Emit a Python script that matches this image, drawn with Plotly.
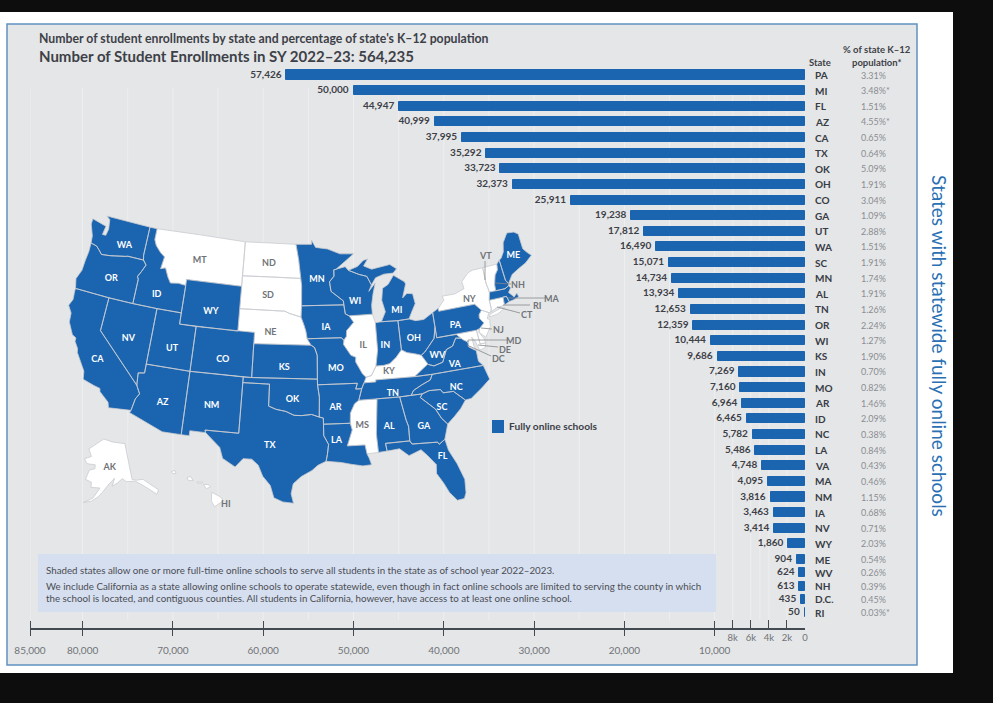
import plotly.graph_objects as go

W, H = 993, 703
FONT = "Lato"
BLUE = "#1b65b0"
DARK = "#3d4147"
GRAY = "#707377"

# bar chart data
state_codes = ["PA", "MI", "FL", "AZ", "CA", "TX", "OK", "OH", "CO", "GA", "UT", "WA", "SC", "MN", "AL", "TN", "OR", "WI",
               "KS", "IN", "MO", "AR", "ID", "NC", "LA", "VA", "MA", "NM", "IA", "NV", "WY", "ME", "WV", "NH", "D.C.", "RI"]
enrollments = [57426, 50000, 44947, 40999, 37995, 35292, 33723, 32373, 25911, 19238, 17812, 16490, 15071, 14734, 13934,
               12653, 12359, 10444, 9686, 7269, 7160, 6964, 6465, 5782, 5486, 4748, 4095, 3816, 3463, 3414, 1860, 904,
               624, 613, 435, 50]
pct_k12 = ["3.31%", "3.48%*", "1.51%", "4.55%*", "0.65%", "0.64%", "5.09%", "1.91%", "3.04%", "1.09%", "2.88%", "1.51%",
           "1.91%", "1.74%", "1.91%", "1.26%", "2.24%", "1.27%", "1.90%", "0.70%", "0.82%", "1.46%", "2.09%", "0.38%",
           "0.84%", "0.43%", "0.46%", "1.15%", "0.68%", "0.71%", "2.03%", "0.54%", "0.26%", "0.39%", "0.45%", "0.03%*"]

major_ticks = [80000, 70000, 60000, 50000, 40000, 30000, 20000, 10000]
minor_ticks = [8000, 6000, 4000, 2000, 0]
minor_labels = ["8k", "6k", "4k", "2k", "0"]

# simplified state outlines, lon/lat
state_shapes = {
    "WA": [[(-124.7, 48.4), (-123.1, 48.15), (-122.75, 48.1), (-122.9, 47.3), (-122.45, 47.3), (-122.3, 47.9), (-122.5, 48.75), (-123.0, 49.0), (-117.03, 49.0), (-117.04, 46.42), (-116.92, 45.99), (-118.98, 46.0), (-119.3, 45.93), (-121.2, 45.65), (-122.3, 45.55), (-122.8, 45.9), (-123.2, 46.15), (-124.0, 46.27), (-124.1, 46.9), (-124.7, 47.9)]],
    "OR": [[(-124.0, 46.27), (-123.2, 46.15), (-122.8, 45.9), (-122.3, 45.55), (-121.2, 45.65), (-119.3, 45.93), (-118.98, 46.0), (-116.92, 45.99), (-116.46, 45.6), (-116.85, 44.95), (-117.2, 44.45), (-117.03, 44.2), (-117.03, 42.0), (-120.0, 42.0), (-124.2, 42.0), (-124.5, 42.85), (-124.1, 43.7), (-124.05, 44.7), (-123.95, 45.5)]],
    "CA": [[(-124.2, 42.0), (-120.0, 42.0), (-120.0, 39.0), (-114.63, 35.0), (-114.15, 34.3), (-114.5, 33.8), (-114.72, 32.72), (-117.12, 32.53), (-117.3, 33.0), (-118.4, 33.75), (-118.5, 34.03), (-119.2, 34.15), (-120.5, 34.45), (-120.65, 35.15), (-121.9, 36.6), (-122.0, 36.95), (-122.5, 37.5), (-122.5, 37.8), (-123.0, 38.0), (-123.75, 39.0), (-123.85, 39.8), (-124.4, 40.4), (-124.1, 41.0), (-124.2, 41.75)]],
    "NV": [[(-120.0, 42.0), (-117.03, 42.0), (-114.04, 42.0), (-114.05, 36.2), (-114.75, 36.1), (-114.63, 35.0), (-120.0, 39.0)]],
    "ID": [[(-117.03, 49.0), (-116.05, 49.0), (-116.05, 48.0), (-115.7, 47.5), (-114.95, 46.95), (-114.35, 46.65), (-114.55, 45.55), (-113.95, 45.7), (-113.45, 44.95), (-113.0, 44.45), (-112.0, 44.55), (-111.05, 44.47), (-111.05, 42.0), (-114.04, 42.0), (-117.03, 42.0), (-117.03, 44.2), (-117.2, 44.45), (-116.85, 44.95), (-116.46, 45.6), (-116.92, 45.99), (-117.04, 46.42)]],
    "MT": [[(-116.05, 49.0), (-104.05, 49.0), (-104.05, 45.0), (-111.05, 45.0), (-111.05, 44.47), (-112.0, 44.55), (-113.0, 44.45), (-113.45, 44.95), (-113.95, 45.7), (-114.55, 45.55), (-114.35, 46.65), (-114.95, 46.95), (-115.7, 47.5), (-116.05, 48.0)]],
    "WY": [[(-111.05, 45.0), (-104.05, 45.0), (-104.05, 41.0), (-111.05, 41.0)]],
    "UT": [[(-114.04, 42.0), (-111.05, 42.0), (-111.05, 41.0), (-109.05, 41.0), (-109.05, 37.0), (-114.05, 37.0)]],
    "CO": [[(-109.05, 41.0), (-102.05, 41.0), (-102.05, 37.0), (-109.05, 37.0)]],
    "AZ": [[(-114.05, 37.0), (-109.05, 37.0), (-109.05, 31.33), (-111.07, 31.33), (-114.81, 32.5), (-114.72, 32.72), (-114.5, 33.8), (-114.15, 34.3), (-114.63, 35.0), (-114.75, 36.1), (-114.05, 36.2)]],
    "NM": [[(-109.05, 37.0), (-103.0, 37.0), (-103.04, 32.0), (-106.62, 32.0), (-106.53, 31.78), (-108.2, 31.78), (-108.2, 31.33), (-109.05, 31.33)]],
    "TX": [[(-106.62, 32.0), (-103.04, 32.0), (-103.0, 36.5), (-100.0, 36.5), (-100.0, 34.56), (-99.2, 34.3), (-98.1, 34.13), (-97.2, 33.8), (-96.4, 33.78), (-95.3, 33.88), (-94.48, 33.64), (-94.04, 33.55), (-94.04, 33.0), (-94.04, 31.99), (-93.55, 31.2), (-93.7, 30.3), (-93.85, 29.7), (-94.7, 29.35), (-95.3, 28.9), (-96.4, 28.35), (-97.2, 27.7), (-97.4, 26.8), (-97.15, 25.95), (-98.2, 26.05), (-99.1, 26.4), (-99.5, 27.5), (-100.3, 28.3), (-100.8, 29.25), (-101.5, 29.77), (-102.4, 29.77), (-103.15, 28.98), (-104.5, 29.65), (-104.9, 30.6), (-106.53, 31.78)]],
    "OK": [[(-103.0, 37.0), (-102.05, 37.0), (-94.62, 37.0), (-94.62, 36.5), (-94.43, 35.4), (-94.48, 33.64), (-95.3, 33.88), (-96.4, 33.78), (-97.2, 33.8), (-98.1, 34.13), (-99.2, 34.3), (-100.0, 34.56), (-100.0, 36.5), (-103.0, 36.5)]],
    "KS": [[(-102.05, 40.0), (-95.3, 40.0), (-94.9, 39.8), (-94.6, 39.1), (-94.62, 37.0), (-102.05, 37.0)]],
    "NE": [[(-104.05, 43.0), (-98.5, 43.0), (-97.9, 42.8), (-96.5, 42.5), (-96.1, 41.7), (-95.9, 41.2), (-95.77, 40.58), (-95.3, 40.0), (-102.05, 40.0), (-102.05, 41.0), (-104.05, 41.0)]],
    "SD": [[(-104.05, 45.94), (-96.56, 45.94), (-96.45, 45.3), (-96.45, 43.5), (-96.5, 42.5), (-97.9, 42.8), (-98.5, 43.0), (-104.05, 43.0)]],
    "ND": [[(-104.05, 49.0), (-97.23, 49.0), (-96.85, 47.6), (-96.56, 45.94), (-104.05, 45.94)]],
    "MN": [[(-97.23, 49.0), (-95.15, 49.0), (-95.15, 49.38), (-94.6, 48.72), (-93.0, 48.55), (-91.4, 48.07), (-89.6, 48.0), (-92.0, 46.7), (-92.3, 46.66), (-92.3, 46.1), (-92.9, 45.6), (-92.75, 44.75), (-91.25, 43.85), (-91.22, 43.5), (-96.45, 43.5), (-96.45, 45.3), (-96.56, 45.94), (-96.85, 47.6)]],
    "IA": [[(-96.45, 43.5), (-91.22, 43.5), (-91.1, 42.7), (-90.65, 42.5), (-90.15, 41.9), (-91.05, 41.2), (-91.1, 40.7), (-91.42, 40.38), (-91.73, 40.6), (-95.77, 40.58), (-95.9, 41.2), (-96.1, 41.7), (-96.5, 42.5)]],
    "MO": [[(-95.77, 40.58), (-91.73, 40.6), (-91.42, 40.38), (-91.5, 40.0), (-90.7, 39.0), (-90.15, 38.8), (-90.2, 38.4), (-89.5, 37.3), (-89.13, 36.98), (-89.4, 36.5), (-89.7, 36.0), (-90.37, 36.0), (-90.15, 36.5), (-94.62, 36.5), (-94.62, 37.0), (-94.6, 39.1), (-94.9, 39.8), (-95.3, 40.0)]],
    "AR": [[(-94.62, 36.5), (-90.15, 36.5), (-90.37, 36.0), (-89.7, 36.0), (-90.1, 35.0), (-90.6, 34.7), (-91.1, 33.9), (-91.17, 33.0), (-94.04, 33.0), (-94.04, 33.55), (-94.48, 33.64), (-94.43, 35.4)]],
    "LA": [[(-94.04, 33.0), (-91.17, 33.0), (-91.0, 32.4), (-91.6, 31.0), (-89.75, 31.0), (-89.6, 30.2), (-89.4, 29.8), (-89.2, 29.2), (-90.1, 29.15), (-91.3, 29.35), (-92.3, 29.55), (-93.85, 29.7), (-93.7, 30.3), (-93.55, 31.2), (-94.04, 31.99)]],
    "MS": [[(-90.1, 35.0), (-88.2, 35.0), (-88.1, 34.9), (-88.47, 31.9), (-88.4, 30.25), (-89.6, 30.2), (-89.75, 31.0), (-91.6, 31.0), (-91.0, 32.4), (-91.17, 33.0), (-91.1, 33.9), (-90.6, 34.7)]],
    "AL": [[(-88.2, 35.0), (-85.6, 34.98), (-85.18, 32.87), (-85.0, 32.3), (-85.05, 31.0), (-87.6, 31.0), (-87.5, 30.3), (-88.4, 30.25), (-88.47, 31.9), (-88.1, 34.9)]],
    "GA": [[(-85.6, 34.98), (-83.1, 35.0), (-83.35, 34.7), (-81.9, 33.5), (-81.4, 32.6), (-80.85, 32.03), (-81.4, 30.72), (-82.05, 30.36), (-82.2, 30.57), (-84.86, 30.7), (-85.05, 31.0), (-85.0, 32.3), (-85.18, 32.87)]],
    "FL": [[(-87.6, 31.0), (-85.05, 31.0), (-84.86, 30.7), (-82.2, 30.57), (-82.05, 30.36), (-81.4, 30.72), (-81.2, 29.7), (-80.55, 28.4), (-80.05, 26.9), (-80.15, 25.7), (-80.4, 25.2), (-81.1, 25.15), (-81.75, 25.95), (-82.2, 26.9), (-82.75, 27.8), (-82.65, 28.6), (-83.4, 29.5), (-84.0, 30.1), (-85.3, 29.7), (-86.2, 30.4), (-87.5, 30.3)]],
    "SC": [[(-83.1, 35.0), (-82.3, 35.2), (-81.05, 35.15), (-80.8, 34.82), (-79.67, 34.8), (-78.55, 33.85), (-79.2, 33.2), (-80.0, 32.6), (-80.85, 32.03), (-81.4, 32.6), (-81.9, 33.5), (-83.35, 34.7)]],
    "NC": [[(-81.68, 36.59), (-75.87, 36.55), (-75.5, 35.25), (-76.5, 34.65), (-77.9, 33.9), (-78.55, 33.85), (-79.67, 34.8), (-80.8, 34.82), (-81.05, 35.15), (-82.3, 35.2), (-83.1, 35.0), (-84.32, 35.0), (-84.0, 35.4), (-83.0, 35.8), (-82.0, 36.12)]],
    "TN": [[(-90.1, 35.0), (-88.2, 35.0), (-85.6, 34.98), (-84.32, 35.0), (-84.0, 35.4), (-83.0, 35.8), (-82.0, 36.12), (-81.68, 36.59), (-83.68, 36.6), (-88.07, 36.68), (-88.07, 36.5), (-89.4, 36.5), (-89.7, 36.0)]],
    "KY": [[(-89.4, 36.5), (-89.13, 36.98), (-88.5, 37.1), (-87.9, 37.9), (-87.0, 37.9), (-86.3, 38.0), (-85.5, 38.5), (-84.8, 39.1), (-84.2, 38.8), (-83.3, 38.6), (-82.6, 38.4), (-82.0, 37.55), (-83.68, 36.6), (-88.07, 36.68), (-88.07, 36.5)]],
    "VA": [[(-83.68, 36.6), (-81.68, 36.59), (-75.87, 36.55), (-76.3, 37.0), (-76.3, 37.95), (-77.05, 38.4), (-77.05, 38.85), (-77.5, 39.1), (-77.75, 39.3), (-78.35, 39.4), (-78.87, 38.76), (-79.65, 38.55), (-80.3, 37.5), (-81.35, 37.3), (-81.95, 37.5), (-82.0, 37.55)]],
    "WV": [[(-82.6, 38.4), (-82.0, 37.55), (-81.95, 37.5), (-81.35, 37.3), (-80.3, 37.5), (-79.65, 38.55), (-78.87, 38.76), (-78.35, 39.4), (-77.75, 39.3), (-78.2, 39.7), (-79.48, 39.72), (-80.52, 39.72), (-80.52, 40.64), (-80.85, 39.7), (-81.7, 39.0), (-82.2, 38.6)]],
    "MD": [[(-79.48, 39.72), (-75.79, 39.72), (-75.7, 38.46), (-75.05, 38.45), (-75.25, 38.03), (-75.9, 37.95), (-76.2, 38.8), (-76.5, 39.2), (-76.45, 38.4), (-76.3, 37.95), (-77.05, 38.4), (-77.05, 38.85), (-77.5, 39.1), (-77.75, 39.3), (-78.2, 39.7)]],
    "DE": [[(-75.79, 39.72), (-75.4, 39.8), (-75.55, 39.5), (-75.1, 38.8), (-75.05, 38.45), (-75.7, 38.46)]],
    "DC": [[(-77.12, 38.93), (-77.04, 39.0), (-76.91, 38.89), (-77.04, 38.79)]],
    "PA": [[(-80.52, 41.98), (-79.76, 42.27), (-79.76, 42.0), (-75.35, 42.0), (-74.7, 41.36), (-75.1, 41.0), (-75.15, 40.7), (-74.75, 40.2), (-75.4, 39.8), (-75.79, 39.72), (-80.52, 39.72)]],
    "NJ": [[(-74.7, 41.36), (-73.9, 41.0), (-74.25, 40.5), (-73.98, 40.4), (-74.1, 39.75), (-74.9, 38.93), (-75.55, 39.5), (-75.4, 39.8), (-74.75, 40.2), (-75.15, 40.7), (-75.1, 41.0)]],
    "NY": [[(-79.76, 42.27), (-78.9, 42.9), (-79.05, 43.27), (-77.5, 43.25), (-76.2, 43.55), (-76.3, 44.2), (-75.3, 44.85), (-74.7, 45.0), (-73.35, 45.0), (-73.4, 43.6), (-73.25, 42.75), (-73.5, 42.05), (-73.5, 41.3), (-73.65, 41.0), (-73.9, 41.0), (-74.7, 41.36), (-75.35, 42.0), (-79.76, 42.0)],
           [(-74.0, 40.6), (-73.75, 40.85), (-72.3, 41.15), (-71.9, 41.05), (-72.9, 40.7)]],
    "CT": [[(-73.5, 42.05), (-71.8, 42.02), (-71.85, 41.32), (-72.9, 41.25), (-73.65, 41.0), (-73.5, 41.3)]],
    "RI": [[(-71.8, 42.02), (-71.38, 42.02), (-71.2, 41.5), (-71.85, 41.32)]],
    "MA": [[(-73.25, 42.75), (-72.46, 42.73), (-71.3, 42.7), (-70.8, 42.87), (-70.6, 42.65), (-71.0, 42.3), (-70.65, 41.95), (-70.5, 41.78), (-70.05, 42.05), (-69.95, 41.7), (-70.65, 41.55), (-71.2, 41.5), (-71.38, 42.02), (-71.8, 42.02), (-73.5, 42.05)]],
    "VT": [[(-73.35, 45.0), (-71.5, 45.01), (-71.6, 44.5), (-72.05, 44.1), (-72.4, 43.3), (-72.46, 42.73), (-73.25, 42.75), (-73.4, 43.6)]],
    "NH": [[(-71.5, 45.01), (-71.08, 45.3), (-70.98, 43.4), (-70.7, 43.07), (-70.8, 42.87), (-71.3, 42.7), (-72.46, 42.73), (-72.4, 43.3), (-72.05, 44.1), (-71.6, 44.5)]],
    "ME": [[(-71.08, 45.3), (-70.8, 45.4), (-70.3, 45.9), (-70.0, 46.7), (-69.2, 47.45), (-68.3, 47.35), (-67.8, 47.07), (-67.8, 45.7), (-67.45, 45.3), (-67.0, 44.9), (-68.0, 44.4), (-69.0, 44.1), (-70.0, 43.75), (-70.7, 43.07), (-70.98, 43.4)]],
    "OH": [[(-84.8, 41.7), (-83.45, 41.73), (-82.7, 41.5), (-81.7, 41.5), (-80.52, 41.98), (-80.52, 40.64), (-80.85, 39.7), (-81.7, 39.0), (-82.2, 38.6), (-82.6, 38.4), (-83.3, 38.6), (-84.2, 38.8), (-84.8, 39.1)]],
    "IN": [[(-87.53, 41.72), (-86.8, 41.76), (-84.8, 41.7), (-84.8, 39.1), (-85.5, 38.5), (-86.3, 38.0), (-87.0, 37.9), (-87.9, 37.9), (-87.55, 39.3)]],
    "IL": [[(-90.65, 42.5), (-87.8, 42.5), (-87.53, 41.72), (-87.55, 39.3), (-87.9, 37.9), (-88.5, 37.1), (-89.13, 36.98), (-89.5, 37.3), (-90.2, 38.4), (-90.15, 38.8), (-90.7, 39.0), (-91.5, 40.0), (-91.42, 40.38), (-91.1, 40.7), (-91.05, 41.2), (-90.15, 41.9)]],
    "WI": [[(-92.0, 46.7), (-90.8, 46.9), (-90.4, 46.55), (-89.1, 46.13), (-88.1, 45.9), (-87.6, 45.1), (-88.0, 44.55), (-87.1, 45.25), (-87.5, 44.3), (-87.8, 43.3), (-87.8, 42.5), (-90.65, 42.5), (-91.1, 42.7), (-91.22, 43.5), (-91.25, 43.85), (-92.75, 44.75), (-92.9, 45.6), (-92.3, 46.1), (-92.3, 46.66)]],
    "MI": [[(-86.8, 41.76), (-84.8, 41.7), (-83.45, 41.73), (-83.1, 42.2), (-82.45, 43.0), (-82.6, 43.9), (-83.3, 44.0), (-83.9, 43.65), (-83.3, 44.85), (-83.4, 45.05), (-84.7, 45.75), (-85.5, 45.0), (-86.25, 44.7), (-86.5, 43.65), (-86.2, 42.6)],
           [(-90.4, 46.55), (-89.2, 46.85), (-88.4, 47.35), (-87.8, 47.45), (-88.4, 46.85), (-87.4, 46.5), (-85.0, 46.75), (-84.2, 46.3), (-84.7, 45.95), (-85.9, 45.95), (-87.0, 45.7), (-87.6, 45.1), (-88.1, 45.9), (-89.1, 46.13)]],
    "AK": [[(-141.0, 69.65), (-141.0, 60.3), (-139.0, 59.9), (-135.5, 59.7), (-133.5, 58.4), (-130.0, 55.9), (-131.5, 55.0), (-133.5, 56.5), (-136.0, 58.0), (-139.5, 59.7), (-144.0, 60.0), (-146.0, 60.9), (-148.5, 60.0), (-151.5, 59.2), (-150.0, 61.2), (-153.5, 59.5), (-156.0, 57.8), (-158.0, 56.5), (-161.0, 55.2), (-164.5, 54.6), (-160.5, 56.0), (-157.5, 58.7), (-162.0, 58.7), (-162.0, 60.0), (-165.3, 60.5), (-164.0, 63.0), (-161.0, 63.5), (-161.0, 64.5), (-166.0, 64.5), (-168.0, 65.6), (-164.0, 66.5), (-166.5, 68.3), (-163.0, 69.5), (-156.5, 71.3), (-150.0, 70.5)]],
    "HI": [[(-155.9, 20.25), (-155.1, 19.85), (-154.8, 19.5), (-155.65, 18.95), (-155.95, 19.5)],
           [(-156.7, 20.95), (-156.25, 20.95), (-156.0, 20.75), (-156.4, 20.58)],
           [(-158.25, 21.55), (-157.95, 21.7), (-157.65, 21.3), (-158.1, 21.3)],
           [(-159.75, 22.1), (-159.4, 22.2), (-159.3, 21.95), (-159.6, 21.9)],
           [(-157.25, 21.2), (-156.75, 21.15), (-156.9, 21.05), (-157.3, 21.1)]],
}

# where the state names sit on the map
label_codes = ["WA", "OR", "CA", "NV", "ID", "MT", "WY", "UT", "CO", "AZ", "NM", "TX", "OK", "KS", "NE", "SD", "ND", "MN", "IA",
               "MO", "AR", "LA", "MS", "AL", "GA", "FL", "SC", "NC", "TN", "KY", "VA", "WV", "PA", "NY", "ME", "OH", "IN", "IL",
               "WI", "MI", "AK"]
label_lon = [-119.75, -120.3, -119.5, -116.65, -114.4, -109.75, -107.5, -111.45, -105.5, -111.5, -106.2, -99.7, -97.4, -98.4, -100.15,
             -100.65, -100.75, -94.5, -93.5, -92.5, -92.7, -92.7, -89.9, -87.05, -83.4, -81.9, -81.2, -79.3, -86.3, -86.5, -79.0,
             -80.8, -78.1, -75.85, -69.2, -83.2, -86.6, -89.2, -89.8, -84.8, -152.5]
label_lat = [46.8, 43.7, 36.4, 38.9, 43.2, 46.8, 42.45, 38.7, 38.4, 33.85, 34.2, 31.05, 35.2, 38.0, 41.05, 44.3, 47.2, 45.8, 41.5,
             37.9, 34.4, 31.5, 32.75, 32.45, 32.05, 29.2, 33.5, 35.1, 35.35, 37.3, 37.1, 38.1, 40.5, 42.5, 45.3, 39.9, 39.65, 39.75,
             43.75, 42.6, 64.0]

online_codes = [c.replace(".", "") for c in state_codes]


def px(x):
    return x / W


def py(y):
    return 1 - y / H


def clockwise(ring):
    area = sum(a[0] * b[1] - b[0] * a[1] for a, b in zip(ring, ring[1:] + ring[:1]))
    return ring if area < 0 else ring[::-1]


def rings_lonlat(codes):
    # rings of several states, closed and joined with gaps, for one filled trace
    lons, lats = [], []
    for code in codes:
        for ring in state_shapes[code]:
            ring = clockwise(ring)
            for lon, lat in ring + ring[:1]:
                lons.append(lon)
                lats.append(lat)
            lons.append(None)
            lats.append(None)
    return lons, lats


# pixel mapping of the bars: 0 sits at x=805, 9.03 px per 1000 students, rows every 15.63 px from y=75
x_left, x_right, y_top, y_bottom = 30, 805, 65, 628
x_max = (x_right - x_left) / 0.00903
row_h = 15.63
# the last four rows are squeezed together
rows = [i if i <= 31 else 31 + (i - 31) * 0.85 for i in range(len(state_codes))]

fig = go.Figure()

fig.add_trace(go.Bar(
    x=enrollments, y=rows, orientation="h", width=0.58,
    marker=dict(color=BLUE, line=dict(color=BLUE, width=1)),
    hoverinfo="skip", showlegend=False,
))
# value labels as text on the second axis (which also carries the long ticks);
# bar text flips to the wrong side for the 50 bar
fig.add_trace(go.Scatter(
    x=enrollments, y=rows, xaxis="x2", mode="text", text=[f"{v:,}\u00a0\u00a0" for v in enrollments],
    textposition="middle left", textfont=dict(family=FONT, size=10, color=DARK, weight=700),
    hoverinfo="skip", showlegend=False, cliponaxis=False,
))

# choropleth would need the topojson from the cdn, so the states are filled scattergeo rings
other_codes = [c for c in state_shapes if c not in online_codes]
for codes, color in [(other_codes, "white"), ([c for c in state_shapes if c in online_codes], BLUE)]:
    lons, lats = rings_lonlat(codes)
    fig.add_trace(go.Scattergeo(
        lon=lons, lat=lats, mode="lines", fill="toself", fillcolor=color, geo="geo",
        line=dict(color="#c9ccd1", width=0.8), hoverinfo="skip", showlegend=False,
    ))
fig.add_trace(go.Scattergeo(
    lon=label_lon, lat=label_lat, text=label_codes, mode="text", geo="geo",
    textfont=dict(family=FONT, size=9, weight=700,
                  color=["white" if c in online_codes else GRAY for c in label_codes]),
    hoverinfo="skip", showlegend=False,
))

# page, panel, note box, legend swatch, grid
shapes = [
    dict(type="rect", xref="paper", yref="paper", x0=px(0), x1=px(953), y0=py(12), y1=py(673), layer="below",
         fillcolor="white", line_width=0),
    dict(type="rect", xref="paper", yref="paper", x0=px(7), x1=px(917), y0=py(24), y1=py(665), layer="below",
         fillcolor="#e5e6e8", line=dict(color="#5f93c0", width=1.5)),
]
for v in [x_max] + list(range(80000, 0, -5000)) + minor_ticks:
    shapes.append(dict(type="line", xref="x", yref="paper", x0=v, x1=v, y0=py(88), y1=py(620), layer="below",
                       line=dict(color="rgba(255,255,255,0.35)", width=1)))
shapes.append(dict(type="rect", xref="paper", yref="paper", x0=px(38), x1=px(716), y0=py(554), y1=py(612), layer="below",
                   fillcolor="#d6dff0", line_width=0))
shapes.append(dict(type="rect", xref="paper", yref="paper", x0=px(492), x1=px(504), y0=py(420), y1=py(433),
                   fillcolor=BLUE, line_width=0))

# leader lines for the small eastern states
leaders = [("VT", 485, 255, 485, 261, 485, 280), ("NH", 518, 284, 511, 284, 495, 283), ("MA", 552, 298, 545, 298, 508, 298),
           ("RI", 537, 305, 530, 305, 503, 305), ("CT", 527, 315, 520, 313, 497, 307), ("NJ", 498, 329, 492, 329, 481, 328),
           ("MD", 514, 340, 507, 340, 468, 340), ("DE", 505, 349, 498, 347, 478, 345), ("DC", 498, 358, 491, 356, 467, 345)]
annotations = []


def add_text(text, x, y, size, color=DARK, anchor="left", bold=False, **kw):
    annotations.append(dict(text=f"<b>{text}</b>" if bold else text, x=px(x), y=py(y), xref="paper", yref="paper",
                            xanchor=anchor, yanchor="middle", showarrow=False,
                            font=dict(family=FONT, size=size, color=color), **kw))


for code, lx, ly, x0, y0, x1, y1 in leaders:
    shapes.append(dict(type="line", xref="paper", yref="paper", x0=px(x0), y0=py(y0), x1=px(x1), y1=py(y1),
                       line=dict(color="#85888c", width=0.8)))
    add_text(code, lx, ly, 9, GRAY, "center", True)
add_text("HI", 226, 503, 9, GRAY, "center", True)

add_text("Number of student enrollments by state and percentage of state's K–12 population", 37, 38, 12.25, bold=True)
add_text("Number of Student Enrollments in SY 2022–23: 564,235", 37, 56, 15, bold=True)
add_text("State", 820, 62, 9.5, anchor="center", bold=True)
add_text("% of state K–12", 877, 50, 9.5, anchor="center", bold=True)
add_text("population*", 877, 62, 9.5, anchor="center", bold=True)
add_text("Fully online schools", 507, 426, 10.2, bold=True)
add_text("Shaded states allow one or more full-time online schools to serve all students in the state as of school year 2022–2023.",
         44, 570, 9.75, "#4a4d52")
add_text("We include California as a state allowing online schools to operate statewide, even though in fact online schools are limited to serving the county in which",
         44, 586, 9.75, "#4a4d52")
add_text("the school is located, and contiguous counties. All students in California, however, have access to at least one online school.",
         44, 598, 9.75, "#4a4d52")
add_text("States with statewide fully online schools", 939, 346, 19, "#2a70b3", "center", textangle=90)

for code, pct, r in zip(state_codes, pct_k12, rows):
    y = 75 + r * row_h
    add_text(code, 813, y, 10, "#383c44", bold=True)
    add_text(pct, 892 if pct.endswith("*") else 888, y, 9, "#8a8d91", "right")

fig.update_layout(
    width=W, height=H, margin=dict(l=0, r=0, t=0, b=0, autoexpand=False),
    paper_bgcolor="#0d0d0d", plot_bgcolor="rgba(0,0,0,0)",
    shapes=shapes, annotations=annotations, showlegend=False,
    bargap=0,
    xaxis=dict(domain=[px(x_left), px(x_right)], range=[x_max, 0], anchor="y", showgrid=False, zeroline=False,
               showline=True, linecolor="#444a52", linewidth=1.5,
               tickmode="array", tickvals=minor_ticks, ticktext=minor_labels, ticks="inside", ticklen=8,
               tickcolor="#444a52", tickwidth=1.2, tickfont=dict(family=FONT, size=9.5, color=GRAY)),
    xaxis2=dict(overlaying="x", range=[x_max, 0], anchor="free", position=py(620), side="bottom", showgrid=False,
                zeroline=False, showline=False,
                tickmode="array", tickvals=[x_max] + major_ticks,
                ticktext=["85,000"] + [f"{v:,}" for v in major_ticks], ticks="outside", ticklen=15,
                tickcolor="#444a52", tickwidth=1.2, ticklabelstandoff=6, tickfont=dict(family=FONT, size=10, color=GRAY)),
    yaxis=dict(domain=[py(y_bottom), py(y_top)], range=[(y_bottom - 75) / row_h, (y_top - 75) / row_h], visible=False),
    geo=dict(domain=dict(x=[px(8), px(592)], y=[py(540), py(180)]), scope="usa",
             showland=False, showlakes=False, showcountries=False, showsubunits=False, showcoastlines=False,
             showframe=False, showocean=False, showrivers=False, bgcolor="rgba(0,0,0,0)"),
)

# the default page has a body margin that would shift everything by 8 px
fig.write_html("out.html", post_script="document.body.style.margin='0';", config=dict(displayModeBar=False))
